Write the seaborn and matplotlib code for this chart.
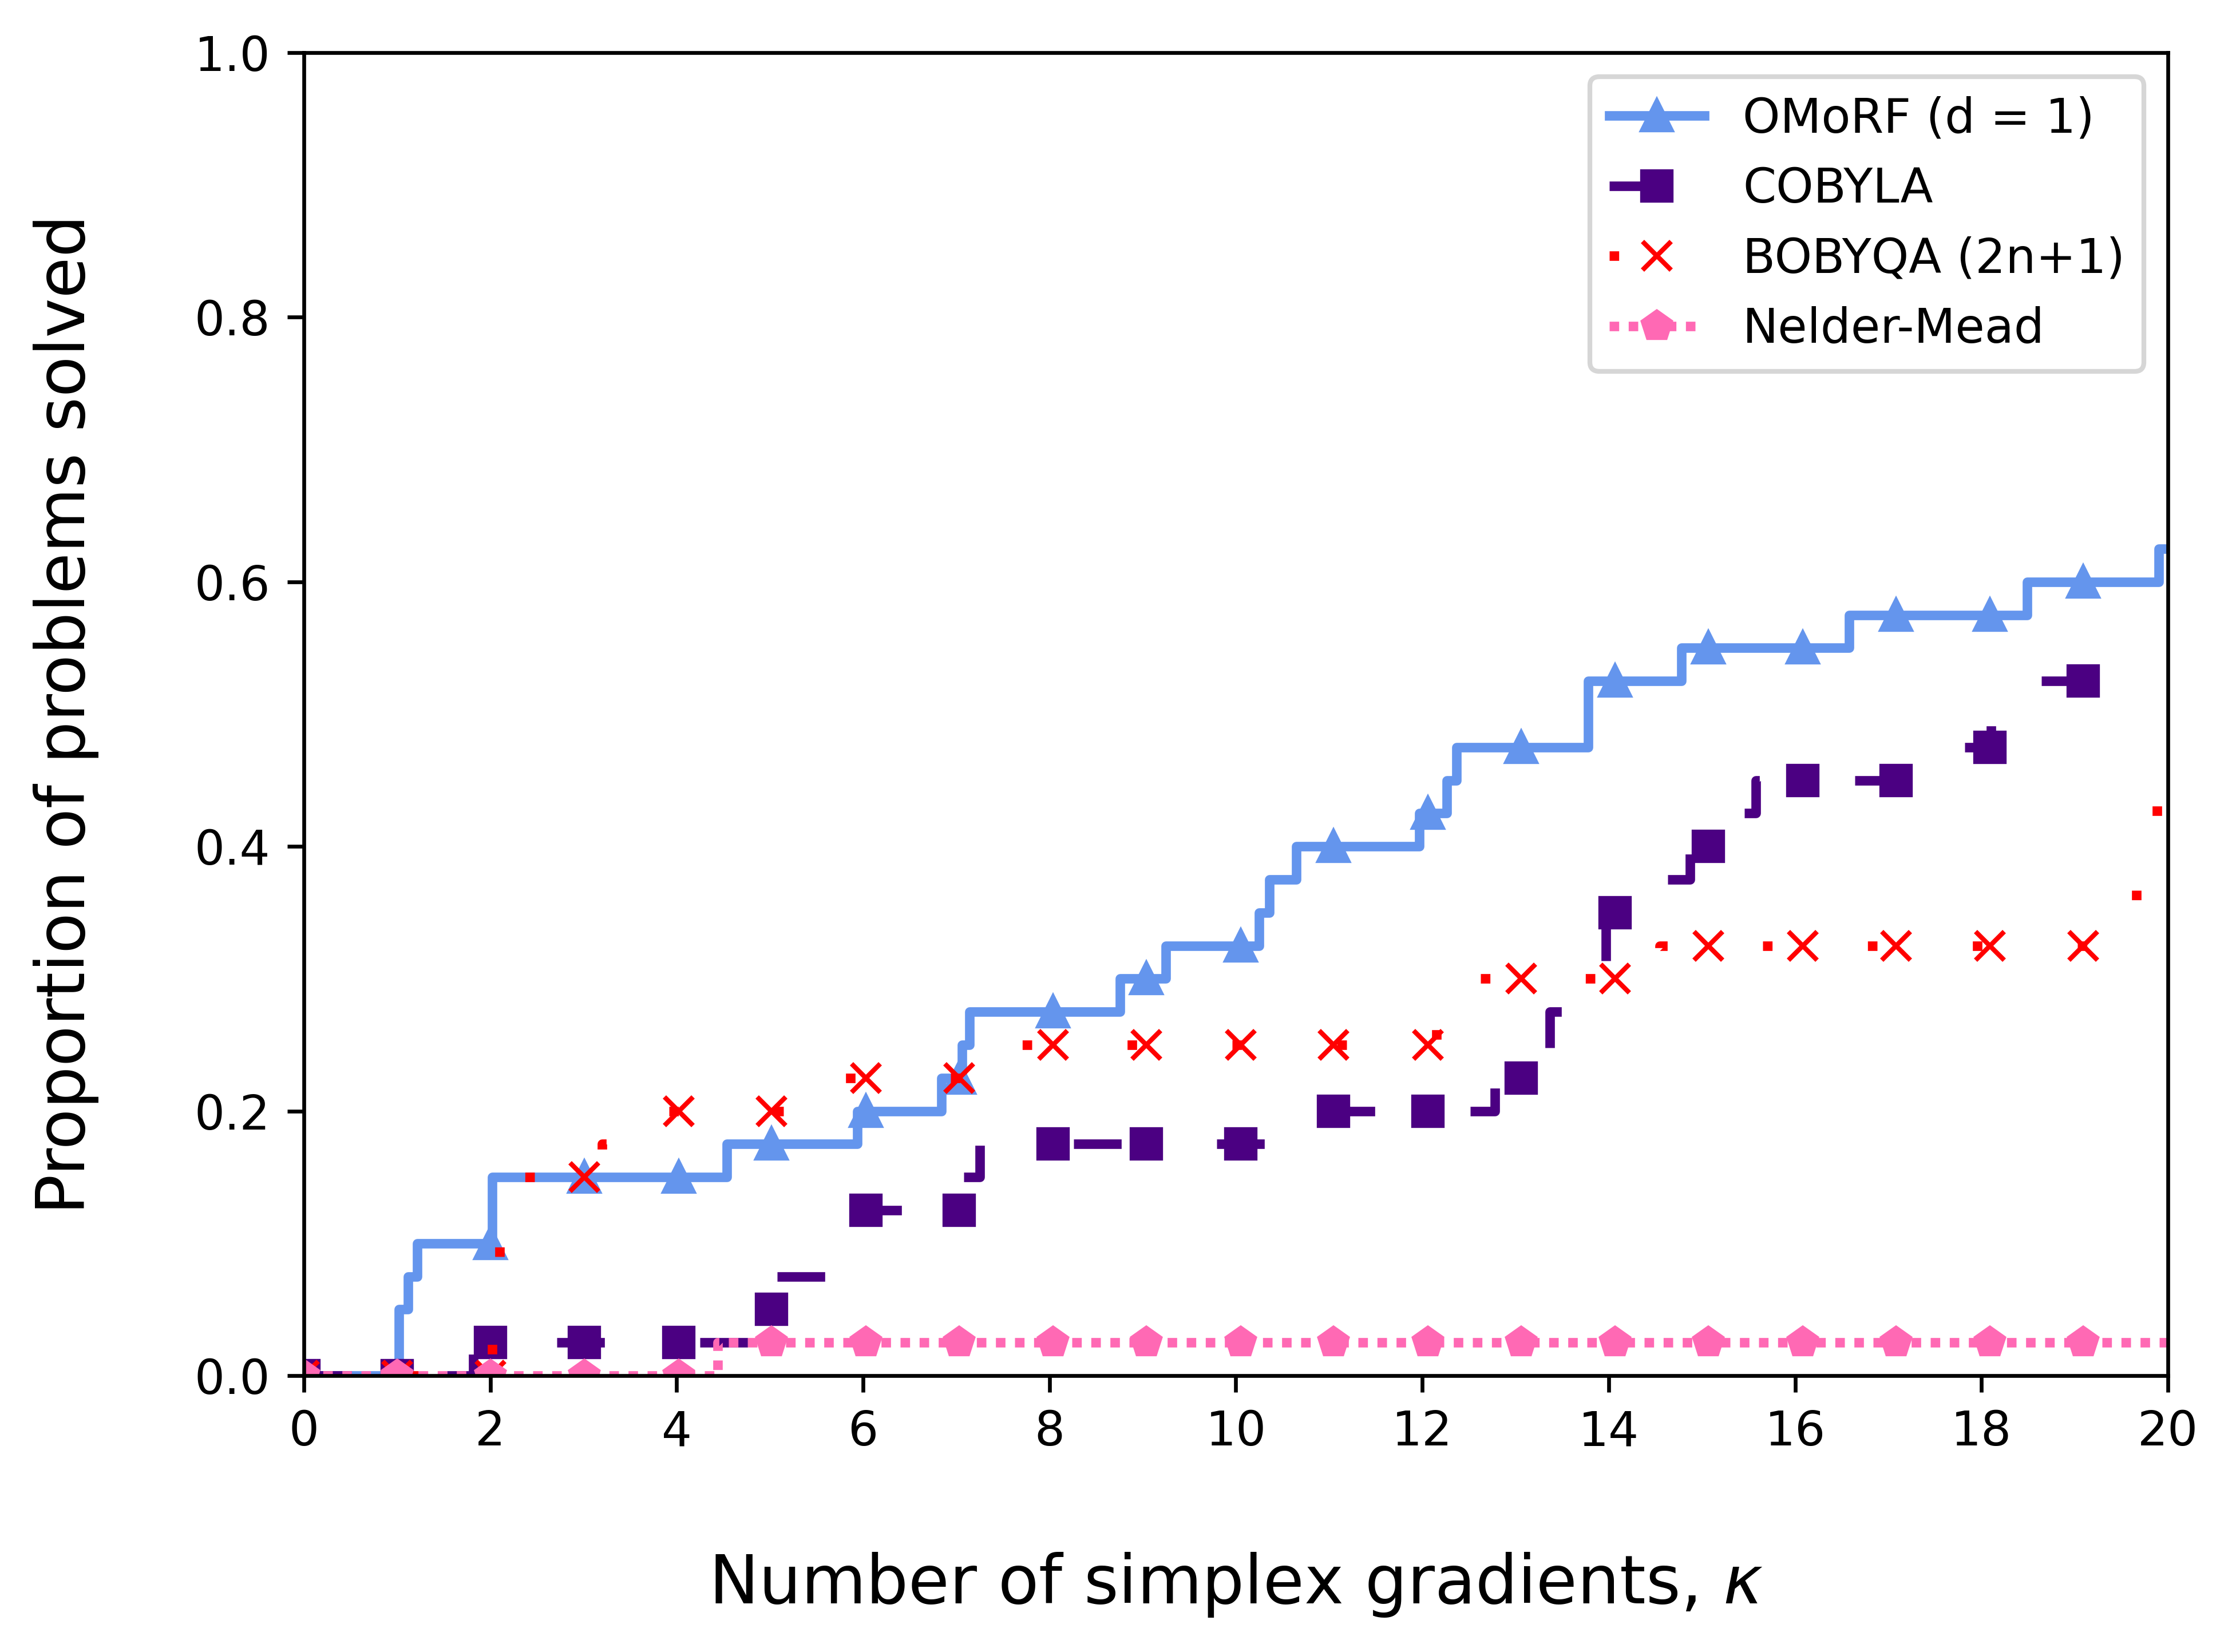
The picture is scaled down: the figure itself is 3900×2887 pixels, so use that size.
import matplotlib
matplotlib.use("Agg")
import matplotlib.pyplot as plt
from matplotlib.lines import Line2D
import seaborn as sns

# step functions (x = simplex gradients, y = proportion solved)
omorf_x = [0, 1.02, 1.12, 1.22, 2.02, 4.54, 5.94, 6.84, 7.06, 7.14, 8.76, 9.25, 10.25,
           10.36, 10.65, 11.97, 12.26, 12.37, 13.78, 14.78, 16.58, 18.49, 19.9, 20]
omorf_y = [0, 0.05, 0.075, 0.1, 0.15, 0.175, 0.2, 0.225, 0.25, 0.275, 0.3, 0.325, 0.35,
           0.375, 0.4, 0.425, 0.45, 0.475, 0.525, 0.55, 0.575, 0.6, 0.625, 0.625]

cobyla_x = [0, 1.82, 4.85, 5.08, 5.9, 7.05, 7.25, 10.9, 12.78, 13.37, 13.97, 14.4,
            14.87, 15.3, 15.58, 17.7, 18.1, 20]
cobyla_y = [0, 0.025, 0.05, 0.075, 0.125, 0.15, 0.175, 0.2, 0.225, 0.275, 0.35, 0.375,
            0.4, 0.425, 0.45, 0.475, 0.525, 0.525]

bobyqa_x = [0, 2.02, 2.1, 3.2, 3.5, 5.8, 7.3, 12.15, 14.55, 19.66, 19.88, 20]
bobyqa_y = [0, 0.05, 0.15, 0.175, 0.2, 0.225, 0.25, 0.3, 0.325, 0.375, 0.45, 0.45]

nm_x = [0, 4.44, 20]
nm_y = [0, 0.025, 0.025]

# marker positions (roughly one per simplex gradient)
mark_x = [0, 1.0, 2.0, 3.01, 4.02, 5.02, 6.03, 7.03, 8.04, 9.04, 10.05, 11.05, 12.06,
          13.06, 14.07, 15.07, 16.08, 17.08, 18.09, 19.09]
omorf_marks = [0, 0, 0.1, 0.15, 0.15, 0.175, 0.2, 0.225, 0.275, 0.3, 0.325, 0.4, 0.425,
               0.475, 0.525, 0.55, 0.55, 0.575, 0.575, 0.6]
cobyla_marks = [0, 0, 0.025, 0.025, 0.025, 0.05, 0.125, 0.125, 0.175, 0.175, 0.175, 0.2,
                0.2, 0.225, 0.35, 0.4, 0.45, 0.45, 0.475, 0.525]
bobyqa_marks = [0, 0, 0, 0.15, 0.2, 0.2, 0.225, 0.225, 0.25, 0.25, 0.25, 0.25, 0.25,
                0.3, 0.3, 0.325, 0.325, 0.325, 0.325, 0.325]
nm_marks = [0, 0, 0, 0, 0, 0.025, 0.025, 0.025, 0.025, 0.025, 0.025, 0.025, 0.025,
            0.025, 0.025, 0.025, 0.025, 0.025, 0.025, 0.025]

labels = ["OMoRF (d = 1)", "COBYLA", "BOBYQA (2n+1)", "Nelder-Mead"]
colors = ["cornflowerblue", "indigo", "red", "hotpink"]
styles = ["-", (0, (5, 10)), (0, (1, 10)), (0, (1, 1))]
markers = ["^", "s", "x", "p"]

series = [(omorf_x, omorf_y, omorf_marks),
          (cobyla_x, cobyla_y, cobyla_marks),
          (bobyqa_x, bobyqa_y, bobyqa_marks),
          (nm_x, nm_y, nm_marks)]

fig = plt.figure(figsize=(6.5, 4.8117), dpi=600)
ax = fig.add_axes([0.1361, 0.1673, 0.8352, 0.8008])

handles = []
for (xs, ys, ms), lab, c, ls, mk in zip(series, labels, colors, styles, markers):
    # la linea escalonada
    sns.lineplot(x=xs, y=ys, ax=ax, color=c, linestyle=ls, linewidth=2,
                 drawstyle="steps-post", legend=False)
    # los marcadores encima
    sns.lineplot(x=mark_x, y=ms, ax=ax, color=c, linestyle="", marker=mk,
                 markersize=6, markeredgewidth=1, markeredgecolor=c, legend=False)
    handles.append(Line2D([], [], color=c, linestyle=ls, linewidth=2, marker=mk,
                          markersize=6, markeredgewidth=1, markeredgecolor=c, label=lab))

ax.set_xlim(0, 20)
ax.set_ylim(0, 1)
ax.set_xticks(range(0, 21, 2))
ax.set_xlabel(r"Number of simplex gradients, $\kappa$", fontsize=14, labelpad=20)
ax.set_ylabel("Proportion of problems solved", fontsize=14, labelpad=20)
ax.legend(handles=handles, loc="upper right", fontsize=10)

fig.savefig("out.png", dpi=600)
